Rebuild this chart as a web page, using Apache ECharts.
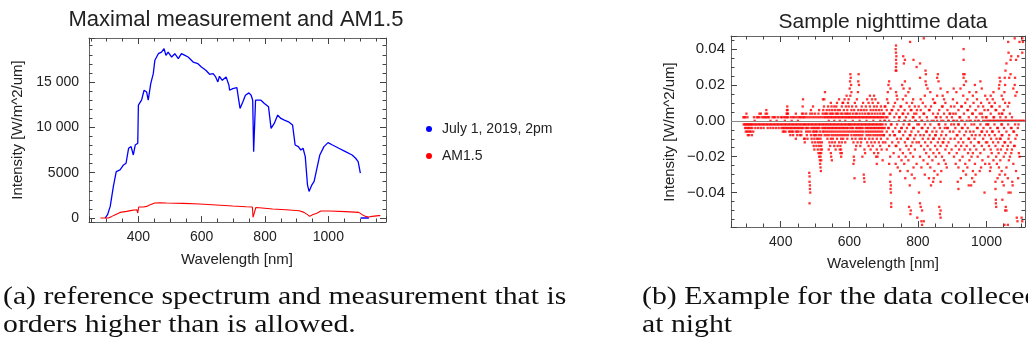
<!DOCTYPE html>
<html>
<head>
<meta charset="utf-8">
<script src="https://cdn.jsdelivr.net/npm/echarts@6/dist/echarts.min.js"></script>
<style>
html, body { margin: 0; padding: 0; background: #fff; }
#chart { width: 1028px; height: 343px; }
</style>
</head>
<body>
<div id="chart"></div>
<script>
// measured spectrum, July 1 2019 2pm  [wavelength nm, W/m^2/um]
var july1 = [
    [295, 0], [303, 400], [311, 1280], [321, 3480], [330, 5120], [342, 5300], [353, 5850],
    [361, 6040], [369, 7690], [377, 7870], [384, 6950], [390, 8050], [398, 8240],
    [400, 12440], [410, 12990], [418, 14090], [426, 13900], [431, 12990], [439, 14820],
    [447, 15920], [452, 17390], [463, 18120], [473, 18300], [481, 18670], [487, 17930],
    [494, 18300], [505, 17750], [515, 18120], [526, 17570], [536, 18120], [547, 17930],
    [557, 17750], [573, 17200], [588, 17020], [599, 16650], [613, 16290], [625, 15850],
    [636, 15920], [644, 15560], [651, 15010], [656, 15630], [665, 15190], [677, 15560],
    [686, 14640], [688, 14090], [698, 14270], [711, 14380], [717, 12990], [721, 12080],
    [730, 12810], [738, 13540], [749, 13800], [756, 13540], [761, 12990], [764, 7320],
    [770, 12990], [774, 13170], [787, 12990], [798, 12630], [811, 12260], [819, 9880],
    [829, 10430], [840, 11350], [850, 10980], [861, 10800], [874, 10610], [887, 10250],
    [895, 8050], [905, 7870], [913, 7500], [920, 7690], [927, 6770], [934, 3660],
    [939, 2930], [948, 3660], [955, 4030], [965, 5670], [973, 6950], [986, 7870],
    [999, 8310], [1013, 8050], [1033, 7690], [1054, 7320], [1075, 6950], [1086, 6590],
    [1094, 6220], [1098, 5490], [1101, 4940], [1101.5, '-'], [1102, 0], [1128, 0]
];

// AM1.5 reference spectrum
var am15 = [
    [280, 0], [305, 0], [316, 180], [327, 370], [342, 620], [363, 730], [379, 840],
    [395, 910], [398, 550], [401, 1210], [416, 1210], [426, 1280], [437, 1460],
    [452, 1650], [468, 1680], [489, 1650], [541, 1610], [594, 1540], [646, 1430],
    [698, 1320], [740, 1240], [760, 1210], [762, 80], [771, 1160], [782, 1130],
    [824, 990], [866, 910], [908, 800], [923, 620], [934, 370], [941, 180], [950, 370],
    [965, 550], [976, 770], [1002, 770], [1054, 700], [1096, 620], [1107, 370],
    [1117, 180], [1128, 110], [1138, 180], [1159, 260], [1164, 260]
];

// nighttime sample: rows of [intensity level, wavelengths where it occurs]
var night300 = [
    [0.006, [358]],
    [0.004, [300, 338, 342, 356, 360]],
    [0.002, [291, 294, 297, 303, 322, 330, 334, 338, 346, 350, 354, 358, 362, 366, 376, 380, 384, 392]],
    [0, [324, 370, 388]],
    [-0.002, [292, 295, 298, 301, 304, 307, 310, 313, 316, 320, 324, 328, 332, 336, 340, 344, 348, 352, 356, 360, 364, 368, 372, 376, 380, 384, 388, 392, 396]],
    [-0.004, [296, 300, 304, 308, 312, 317, 326, 334, 342, 350, 362, 370, 378, 386, 394]],
    [-0.006, [298, 302, 306, 310, 314, 320]],
    [-0.008, [304, 308, 316]]
];
var night400 = [
    [0.012, [465]],
    [0.008, [419, 464]],
    [0.006, [418, 420]],
    [0.004, [417, 419, 421, 444, 462, 466]],
    [0.002, [400, 404, 410, 414, 418, 422, 430, 436, 440, 446, 452, 456, 460, 464, 468]],
    [0, [412, 432, 450]],
    [-0.002, [400, 404, 408, 412, 416, 420, 424, 428, 432, 436, 440, 444, 448, 452, 456, 460, 464, 468]],
    [-0.004, [402, 406, 410, 414, 418, 422, 426, 430, 434, 438, 442, 446, 450, 454, 458, 462, 466]],
    [-0.006, [406, 410, 414, 424, 428, 432, 436, 444, 448, 452, 460]],
    [-0.008, [428, 436, 448, 456, 460]],
    [-0.010, [444, 468, 470]],
    [-0.012, [470]]
];
var night470 = [
    [0.016, [529]],
    [0.012, [523, 527]],
    [0.008, [494, 526]],
    [0.006, [488, 512, 524]],
    [0.004, [474, 486, 492, 500, 510, 522, 528]],
    [0.002, [472, 478, 484, 490, 496, 502, 508, 514, 520, 526]],
    [-0.002, [471, 475, 479, 483, 487, 491, 495, 499, 503, 507, 511, 515, 519, 523, 527]],
    [-0.004, [473, 477, 481, 489, 493, 497, 501, 505, 509, 513, 521, 525, 529]],
    [-0.006, [474, 480, 486, 494, 498, 502, 506, 514, 522, 526]],
    [-0.008, [476, 488, 496, 500, 504, 512, 518, 528]],
    [-0.010, [478, 490, 498, 506, 510, 516]],
    [-0.012, [492, 500, 508, 514, 520]],
    [-0.014, [496, 504, 512, 518]],
    [-0.016, [498, 508, 516, 520]],
    [-0.018, [510, 514, 518]],
    [-0.020, [512, 516]],
    [-0.022, [514, 518]],
    [-0.024, [515]],
    [-0.026, [516]],
    [-0.028, [517]],
    [-0.029, [483]],
    [-0.031, [484]],
    [-0.034, [484]],
    [-0.036, [485]],
    [-0.038, [485]],
    [-0.040, [486]],
    [-0.046, [484]]
];
var night530 = [
    [0.014, [592]],
    [0.012, [570, 586, 598]],
    [0.010, [546, 564, 580, 582, 596]],
    [0.008, [538, 548, 556, 562, 578, 590, 598]],
    [0.006, [534, 542, 550, 558, 566, 572, 584, 594]],
    [0.004, [532, 536, 544, 548, 552, 560, 564, 568, 576, 580, 588, 592, 596]],
    [0.002, [530, 534, 538, 542, 546, 550, 554, 558, 562, 566, 570, 574, 578, 582, 586, 590, 594, 598]],
    [0, [540, 556, 572, 588]],
    [-0.002, [531, 535, 539, 543, 547, 551, 555, 559, 563, 567, 571, 575, 579, 583, 587, 591, 595, 599]],
    [-0.004, [533, 537, 541, 545, 549, 553, 557, 561, 565, 569, 573, 577, 581, 585, 589, 593, 597]],
    [-0.006, [532, 538, 544, 550, 556, 562, 568, 574, 580, 586, 592, 598]],
    [-0.008, [534, 540, 548, 554, 560, 566, 572, 578, 584, 590, 596]],
    [-0.010, [536, 546, 552, 564, 576, 582, 594]],
    [-0.012, [542, 550, 558, 570, 578, 588]],
    [-0.014, [544, 556, 566, 574]],
    [-0.016, [540, 560, 572, 576]],
    [-0.018, [546, 574, 578]],
    [-0.020, [547, 576]],
    [-0.022, [549]]
];
var night600 = [
    [0.026, [603, 627]],
    [0.024, [604]],
    [0.022, [602, 626]],
    [0.020, [605, 628]],
    [0.018, [601]],
    [0.016, [606, 625]],
    [0.014, [603, 660, 672]],
    [0.012, [622, 652, 666, 676]],
    [0.010, [616, 640, 656, 668, 684]],
    [0.008, [608, 620, 636, 648, 660, 672, 680, 692]],
    [0.006, [606, 614, 626, 634, 642, 650, 662, 670, 678, 686, 694]],
    [0.004, [602, 610, 618, 622, 630, 638, 646, 654, 658, 666, 674, 682, 690, 698]],
    [0.002, [600, 604, 608, 612, 616, 620, 624, 628, 632, 636, 640, 644, 648, 652, 656, 660, 664, 668, 672, 676, 680, 684, 688, 692, 696, 700]],
    [0, [610, 630, 650, 670, 690]],
    [-0.002, [601, 605, 609, 613, 617, 621, 625, 629, 633, 637, 641, 645, 649, 653, 657, 661, 665, 669, 673, 677, 681, 685, 689, 693, 697]],
    [-0.004, [603, 607, 611, 619, 623, 627, 631, 635, 639, 647, 651, 655, 659, 663, 667, 671, 675, 679, 683, 687, 691, 695, 699]],
    [-0.006, [604, 610, 616, 622, 628, 634, 640, 648, 654, 660, 666, 672, 678, 684, 690, 696]],
    [-0.008, [606, 614, 620, 626, 632, 638, 650, 656, 662, 670, 676, 682, 688, 694, 700]],
    [-0.010, [608, 618, 630, 636, 646, 658, 668, 680, 692]],
    [-0.012, [612, 624, 634, 652, 664, 674, 686, 698]],
    [-0.014, [620, 632, 656, 668, 690]],
    [-0.016, [618, 644, 662, 680, 694]],
    [-0.018, [646, 672, 684]],
    [-0.020, [613, 638, 678, 682]],
    [-0.022, [614, 697]],
    [-0.024, [612, 680]],
    [-0.030, [642]],
    [-0.032, [615, 643]],
    [-0.034, [644]]
];
var night700 = [
    [0.044, [777]],
    [0.042, [736]],
    [0.040, [735]],
    [0.038, [736]],
    [0.036, [737, 757]],
    [0.034, [736, 762, 787]],
    [0.032, [737, 759]],
    [0.030, [736, 796]],
    [0.028, [735, 737]],
    [0.022, [716, 762]],
    [0.020, [714, 754]],
    [0.018, [720, 758, 776]],
    [0.016, [712, 736, 772]],
    [0.014, [738, 764]],
    [0.012, [710, 740, 756, 786]],
    [0.010, [713, 733, 767, 783]],
    [0.008, [703, 705, 729, 749, 751, 775, 791]],
    [0.006, [709, 723, 725, 743, 761, 779, 781, 797]],
    [0.004, [701, 717, 719, 737, 755, 757, 771, 789, 795]],
    [0.002, [707, 711, 731, 745, 747, 765, 785, 787]],
    [0, [702, 704, 716, 744, 760, 762, 776, 792, 794]],
    [-0.002, [706, 721, 723, 739, 758, 773, 775, 798]],
    [-0.004, [703, 713, 715, 734, 751, 753, 768, 786, 788]],
    [-0.006, [709, 727, 745, 747, 763, 781]],
    [-0.008, [701, 718, 731, 733, 757, 776, 778, 793]],
    [-0.010, [711, 739, 750, 769, 771, 789]],
    [-0.012, [705, 725, 743, 762, 784, 796]],
    [-0.014, [716, 735, 737, 766, 780]],
    [-0.016, [709, 748, 773, 791]],
    [-0.018, [729, 756, 778]],
    [-0.020, [719, 744, 764, 786]],
    [-0.022, [752, 772]],
    [-0.024, [716, 735, 760, 796]],
    [-0.026, [741, 787]],
    [-0.028, [748, 770]],
    [-0.030, [720, 782]],
    [-0.032, [763, 790]],
    [-0.034, [719]],
    [-0.036, [721, 776]],
    [-0.038, [720]],
    [-0.040, [721]],
    [-0.046, [722]],
    [-0.048, [722, 774]],
    [-0.050, [779]],
    [-0.052, [778]]
];
var night800 = [
    [0.046, [817]],
    [0.032, [806]],
    [0.028, [822]],
    [0.026, [823, 858]],
    [0.024, [806, 856]],
    [0.022, [822, 860]],
    [0.020, [824]],
    [0.018, [828, 866]],
    [0.016, [836, 886]],
    [0.014, [820, 856, 872]],
    [0.012, [808, 844, 876]],
    [0.010, [814, 848, 850, 880]],
    [0.008, [802, 822, 838, 870, 872, 896]],
    [0.006, [808, 832, 834, 862, 886]],
    [0.004, [816, 818, 844, 858, 876, 892, 894]],
    [0.002, [805, 826, 852, 854, 866, 884, 899]],
    [0, [810, 812, 828, 840, 846, 856, 868, 874, 888, 890]],
    [-0.002, [803, 820, 836, 860, 862, 880, 897]],
    [-0.004, [811, 813, 829, 848, 864, 878, 885, 887]],
    [-0.006, [801, 824, 826, 842, 854, 871, 893]],
    [-0.008, [807, 817, 834, 850, 852, 868, 882]],
    [-0.010, [814, 830, 844, 846, 862, 876, 895]],
    [-0.012, [803, 821, 838, 858, 872, 874, 889]],
    [-0.014, [809, 828, 850, 866, 884]],
    [-0.016, [818, 836, 856, 880, 898]],
    [-0.018, [824, 845, 862, 891]],
    [-0.020, [806, 832, 852, 870]],
    [-0.022, [816, 842, 876]],
    [-0.024, [828, 860, 881]],
    [-0.026, [810, 836, 884]],
    [-0.028, [848, 868]],
    [-0.030, [820, 857]],
    [-0.032, [832, 846]],
    [-0.034, [844, 866]],
    [-0.036, [838]],
    [-0.040, [803]],
    [-0.046, [806]],
    [-0.048, [808, 862]],
    [-0.050, [812, 866]],
    [-0.052, [864]],
    [-0.054, [798, 866]],
    [-0.056, [810, 817]],
    [-0.058, [812]]
];
var night900 = [
    [0.040, [933]],
    [0.034, [933]],
    [0.026, [932, 936]],
    [0.024, [933]],
    [0.022, [940, 982]],
    [0.020, [934, 966]],
    [0.018, [904, 924, 986]],
    [0.016, [912, 950, 970]],
    [0.014, [932, 960, 996]],
    [0.012, [902, 944, 972]],
    [0.010, [914, 938, 962, 984]],
    [0.008, [906, 926, 928, 952, 976, 990]],
    [0.006, [918, 944, 946, 968, 994]],
    [0.004, [903, 910, 934, 958, 960, 980, 986]],
    [0.002, [921, 923, 948, 970, 988, 998]],
    [0, [902, 906, 914, 926, 930, 942, 950, 954, 966, 974, 978, 990, 996]],
    [-0.002, [905, 917, 919, 937, 956, 964, 982, 999]],
    [-0.004, [909, 928, 930, 945, 972, 974, 991]],
    [-0.006, [903, 921, 940, 952, 962, 985, 987]],
    [-0.008, [913, 915, 935, 957, 968, 980, 995]],
    [-0.010, [907, 925, 947, 949, 965, 990]],
    [-0.012, [918, 932, 954, 976, 978, 998]],
    [-0.014, [910, 926, 942, 964, 986]],
    [-0.016, [920, 936, 952, 970, 993]],
    [-0.018, [913, 946, 960, 982]],
    [-0.020, [905, 930, 956, 974]],
    [-0.022, [922, 950, 988]],
    [-0.024, [910, 938, 966, 996]],
    [-0.026, [918, 944, 984]],
    [-0.028, [932, 960, 980]],
    [-0.030, [940, 968]],
    [-0.032, [925, 958]],
    [-0.034, [916, 964]],
    [-0.036, [948, 955]],
    [-0.038, [918]],
    [-0.040, [994]]
];
var night1000 = [
    [0.046, [1082, 1104]],
    [0.044, [1063, 1096, 1106]],
    [0.038, [1064, 1104]],
    [0.036, [1072, 1092]],
    [0.034, [1070, 1086]],
    [0.032, [1058]],
    [0.028, [1055]],
    [0.026, [1070]],
    [0.024, [1038, 1053, 1066, 1083]],
    [0.022, [1040]],
    [0.020, [1037, 1054, 1082]],
    [0.018, [1036, 1078]],
    [0.016, [1020, 1052, 1088]],
    [0.014, [1012, 1044, 1084]],
    [0.012, [1002, 1018, 1048]],
    [0.010, [1008, 1024, 1054, 1066]],
    [0.008, [1014, 1016, 1038, 1062]],
    [0.006, [1004, 1026, 1028, 1050]],
    [0.004, [1012, 1036, 1044, 1046, 1068]],
    [0.002, [1000, 1020, 1022, 1040, 1056, 1074]],
    [0, [1002, 1006, 1010, 1014, 1018, 1022, 1026, 1030, 1034, 1038, 1042, 1046, 1050, 1054, 1058, 1062, 1066, 1070, 1074, 1078, 1082, 1086, 1090, 1094, 1098, 1102, 1106, 1110]],
    [-0.002, [1003, 1005, 1023, 1043, 1045, 1063, 1083, 1093]],
    [-0.004, [1011, 1031, 1033, 1051, 1071, 1073, 1091]],
    [-0.006, [1001, 1016, 1018, 1036, 1058, 1078, 1080]],
    [-0.008, [1008, 1024, 1044, 1046, 1066, 1088]],
    [-0.010, [1013, 1029, 1039, 1041, 1064, 1084]],
    [-0.012, [1002, 1019, 1034, 1052, 1054, 1070]],
    [-0.014, [1007, 1026, 1047, 1062, 1080, 1082]],
    [-0.016, [1012, 1032, 1042, 1060, 1074]],
    [-0.018, [1015, 1035, 1055, 1072, 1094]],
    [-0.020, [1005, 1028, 1050, 1068, 1096]],
    [-0.022, [1020, 1040, 1065]],
    [-0.024, [1008, 1030, 1078]],
    [-0.026, [1012, 1036, 1058]],
    [-0.028, [1010, 1044, 1086]],
    [-0.030, [1038, 1054]],
    [-0.032, [1032, 1062, 1092]],
    [-0.034, [1026, 1046, 1075]],
    [-0.036, [1050, 1076]],
    [-0.038, [1026]],
    [-0.040, [1064, 1070]],
    [-0.044, [1027, 1046]],
    [-0.046, [1027]],
    [-0.048, [1028, 1056]],
    [-0.050, [1054, 1058]],
    [-0.054, [1088, 1102]],
    [-0.056, [1090, 1104]],
    [-0.058, [1052, 1062]]
];

var leftX = [244, 1182], leftY = [-440, 19850];
var rightX = [255, 1112], rightY = [-0.0592, 0.0473];

var nightData = [];
[night300, night400, night470, night530, night600, night700, night800, night900, night1000].forEach(function (rows) {
    rows.forEach(function (row) {
        row[1].forEach(function (wl) { nightData.push([wl, row[0]]); });
    });
});

var FRAME = '#444';
var SANS = '"Liberation Sans", Arial, sans-serif';
var SERIF = '25px "Liberation Serif", serif';

// one frame side: major ticks (with line) or minor ticks only
function frameAxis(grid, pos, range, step, len, withLine, label) {
    return {
        type: 'value', gridIndex: grid, position: pos,
        min: range[0], max: range[1],
        minInterval: step, maxInterval: step, splitNumber: 5,
        axisLine: { show: withLine, onZero: false, lineStyle: { color: '#666', width: 1 } },
        axisTick: { show: true, inside: true, length: len, lineStyle: { color: FRAME, width: 1 } },
        axisLabel: label || { show: false },
        splitLine: { show: false }
    };
}

function fmtLeftY(v) {
    if (v % 5000 !== 0) return '';
    if (v >= 10000) return Math.floor(v / 1000) + ' 000';
    return String(v);
}
function fmtX(v) { return v % 200 === 0 ? String(v) : ''; }
function fmtRightY(v) {
    var r = Math.round(v * 100);
    if (Math.abs(v * 100 - r) > 1e-6 || r % 2 !== 0) return '';
    return (v < 0 ? '\u2212' : '') + Math.abs(v).toFixed(2);
}

function label(text, x, y, font, rot) {
    return {
        type: 'text', x: x, y: y, rotation: rot || 0,
        style: { text: text, font: font, fill: '#222', align: 'center', verticalAlign: 'middle', textAlign: 'center', textVerticalAlign: 'middle' }
    };
}
function caption(text, x, y) {
    return {
        type: 'text', x: x, y: y, scaleX: 1.19,
        style: { text: text, font: SERIF, fill: '#111', align: 'left', verticalAlign: 'middle', textAlign: 'left', textVerticalAlign: 'middle' }
    };
}

var chart = echarts.init(document.getElementById('chart'));
chart.setOption({
    animation: false,
    grid: [
        { left: 89, top: 38, width: 297, height: 184 },
        { left: 731, top: 36, width: 296, height: 191 }
    ],
    xAxis: [
        frameAxis(0, 'bottom', leftX, 200, 6, true, { show: true, formatter: fmtX, margin: 8, color: '#222', fontSize: 14, fontFamily: SANS }),
        frameAxis(0, 'bottom', leftX, 50, 3.5, false),
        frameAxis(0, 'top', leftX, 200, 6, true),
        frameAxis(0, 'top', leftX, 50, 3.5, false),
        frameAxis(1, 'bottom', rightX, 200, 6, true, { show: true, formatter: fmtX, margin: 8, color: '#222', fontSize: 14, fontFamily: SANS }),
        frameAxis(1, 'bottom', rightX, 50, 3.5, false),
        frameAxis(1, 'top', rightX, 200, 6, true),
        frameAxis(1, 'top', rightX, 50, 3.5, false)
    ],
    yAxis: [
        frameAxis(0, 'left', leftY, 5000, 6, true, { show: true, formatter: fmtLeftY, margin: 10, color: '#222', fontSize: 14, fontFamily: SANS }),
        frameAxis(0, 'left', leftY, 1000, 3.5, false),
        frameAxis(0, 'right', leftY, 5000, 6, true),
        frameAxis(0, 'right', leftY, 1000, 3.5, false),
        frameAxis(1, 'left', rightY, 0.02, 6, true, { show: true, formatter: fmtRightY, margin: 6, color: '#222', fontSize: 15, fontFamily: SANS }),
        frameAxis(1, 'left', rightY, 0.005, 3.5, false),
        frameAxis(1, 'right', rightY, 0.02, 6, true),
        frameAxis(1, 'right', rightY, 0.005, 3.5, false)
    ],
    legend: {
        orient: 'vertical', left: 421, top: 117, itemGap: 13,
        itemWidth: 6, itemHeight: 6,
        textStyle: { fontSize: 14, color: '#222', fontFamily: SANS, padding: [0, 0, 0, 5] },
        data: [
            { name: 'July 1, 2019, 2pm', icon: 'circle' },
            { name: 'AM1.5', icon: 'circle' }
        ]
    },
    series: [
        {
            name: 'July 1, 2019, 2pm', type: 'line', xAxisIndex: 0, yAxisIndex: 0,
            data: july1, symbol: 'none', connectNulls: false,
            lineStyle: { color: '#0000ff', width: 1.3 }, itemStyle: { color: '#0000ff' }
        },
        {
            name: 'AM1.5', type: 'line', xAxisIndex: 0, yAxisIndex: 0,
            data: am15, symbol: 'none',
            lineStyle: { color: '#ff0000', width: 1.1 }, itemStyle: { color: '#ff0000' }
        },
        {
            name: 'zero', type: 'line', xAxisIndex: 4, yAxisIndex: 4, data: [], z: 1,
            markLine: {
                silent: true, symbol: 'none', label: { show: false },
                lineStyle: { color: '#8a8a8a', type: 'solid', width: 1.2 },
                data: [{ yAxis: 0 }]
            }
        },
        {
            name: 'night', type: 'scatter', xAxisIndex: 4, yAxisIndex: 4, z: 3,
            data: nightData, symbol: 'rect', symbolSize: 2.3,
            itemStyle: { color: '#ff0000' }
        }
    ],
    graphic: [
        label('Maximal measurement and AM1.5', 236, 20, '22px ' + SANS),
        label('Sample nighttime data', 883, 22, '21px ' + SANS),
        label('Wavelength [nm]', 237, 260, '15px ' + SANS),
        label('Wavelength [nm]', 883, 264, '15px ' + SANS),
        label('Intensity [W/m^2/um]', 18, 130, '15px ' + SANS, Math.PI / 2),
        label('Intensity [W/m^2/um]', 670, 132, '15px ' + SANS, Math.PI / 2),
        caption('(a) reference spectrum and measurement that is', 3, 297),
        caption('orders higher than is allowed.', 3, 325),
        caption('(b) Example for the data colleced', 642, 297),
        caption('at night', 642, 325)
    ]
});
</script>
</body>
</html>
